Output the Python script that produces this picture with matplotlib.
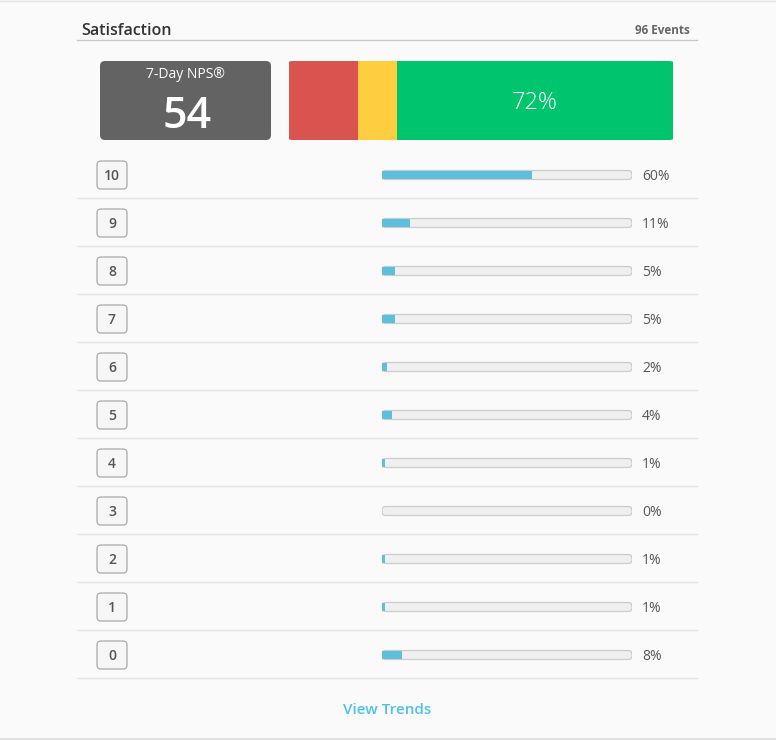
import matplotlib
matplotlib.use("Agg")
import matplotlib.pyplot as plt
from matplotlib.patches import FancyBboxPatch

plt.rcParams['font.family'] = ['Open Sans', 'DejaVu Sans']

W, H = 776, 740

scores = [10, 9, 8, 7, 6, 5, 4, 3, 2, 1, 0]
pcts = [60, 11, 5, 5, 2, 4, 1, 0, 1, 1, 8]
groups = ['Detractors', 'Passives', 'Promoters']
group_pcts = [18, 10, 72]
group_colors = ['#d9534f', '#ffcd40', '#00c56e']
title = 'Satisfaction'
events = '96 Events'
nps_label = '7-Day NPS®'
link_text = 'View Trends'

BG = '#fafafa'
TEXT = '#555555'
BLUE = '#5bc0de'


def rect(x, y, w, h):
    # pixel box (top-left origin) -> figure fraction
    return [x / W, 1 - (y + h) / H, w / W, h / H]


fig = plt.figure(figsize=(W / 100, H / 100), dpi=100, facecolor=BG)
ax = fig.add_axes([0, 0, 1, 1])
ax.set_xlim(0, W)
ax.set_ylim(H, 0)
ax.axis('off')

# panel edges
ax.plot([0, W], [0.5, 0.5], color='#e2e2e2', lw=1)
ax.plot([0, W], [739, 739], color='#e2e2e2', lw=1.5)

# header
ax.text(81, 31, title, fontsize=11.5, fontweight='semibold', color='#333333',
        va='center', ha='left')
ax.text(690, 31, events, fontsize=8.5, fontweight='bold', color='#666666',
        va='center', ha='right')
ax.plot([77, 697], [40, 40], color='#c8c8c8', lw=1)

# NPS box
nps = group_pcts[2] - group_pcts[0]
ax.add_patch(FancyBboxPatch((100, 61), 171, 79, boxstyle='round,pad=0,rounding_size=5',
                            fc='#636363', ec='none'))
ax.text(185.5, 74, nps_label, fontsize=10, color='white', ha='center', va='center')
ax.text(187, 116, str(nps), fontsize=31, fontweight='semibold', color='white',
        ha='center', va='center')

# stacked NPS bar
sax = fig.add_axes(rect(289, 61, 384, 79))
sax.set_xlim(0, 100)
sax.set_ylim(-0.5, 0.5)
sax.axis('off')
clip = FancyBboxPatch((0, 0), 1, 1, boxstyle='round,pad=0,rounding_size=0.012',
                      transform=sax.transAxes, fc='none', ec='none')
sax.add_patch(clip)
left = 0
for name, val, col in zip(groups, group_pcts, group_colors):
    b = sax.barh(0, val, left=left, height=1, color=col, lw=0)
    for p in b:
        p.set_clip_path(clip)
    left += val
sax.text(left - group_pcts[2] / 2, -0.03, f'{group_pcts[2]}%', fontsize=17,
         fontweight='light', color='white', ha='center', va='center')

# rows
row_top = 150
row_h = 48
for i, (s, p) in enumerate(zip(scores, pcts)):
    cy = row_top + row_h * i + 25
    ax.add_patch(FancyBboxPatch((97, cy - 14), 30, 28,
                                boxstyle='round,pad=0,rounding_size=4',
                                fc='#f6f6f6', ec='#a8a8a8', lw=0.9))
    ax.text(112, cy + 1.5, str(s), fontsize=10, fontweight='semibold', color=TEXT,
            ha='center', va='center')
    ax.text(642, cy + 1.5, f'{p}%', fontsize=10, color=TEXT, ha='left', va='center')
    ax.plot([77, 697], [row_top + row_h * (i + 1)] * 2, color='#e3e3e3', lw=1)

# progress bars
bax = fig.add_axes(rect(382, row_top + 1, 250, row_h * len(scores)))
bax.set_xlim(0, 100)
bax.set_ylim(len(scores) - 0.5, -0.5)
bax.axis('off')
th = 9 / row_h
aspect = (4 / row_h) / (4 / 2.5)
for i in range(len(scores)):
    bax.add_patch(FancyBboxPatch((0, i - th / 2), 100, th,
                                 boxstyle='round,pad=0,rounding_size=1.6',
                                 mutation_aspect=aspect,
                                 fc='#efefef', ec='#cccccc', lw=0.9))
bax.barh(range(len(scores)), pcts, height=th * 0.8, color=BLUE, lw=0)

# footer link
ax.text(387, 710, link_text, fontsize=11, fontweight='semibold', color='#4fc1e9',
        ha='center', va='center')

fig.savefig('out.png', dpi=100, facecolor=BG)
